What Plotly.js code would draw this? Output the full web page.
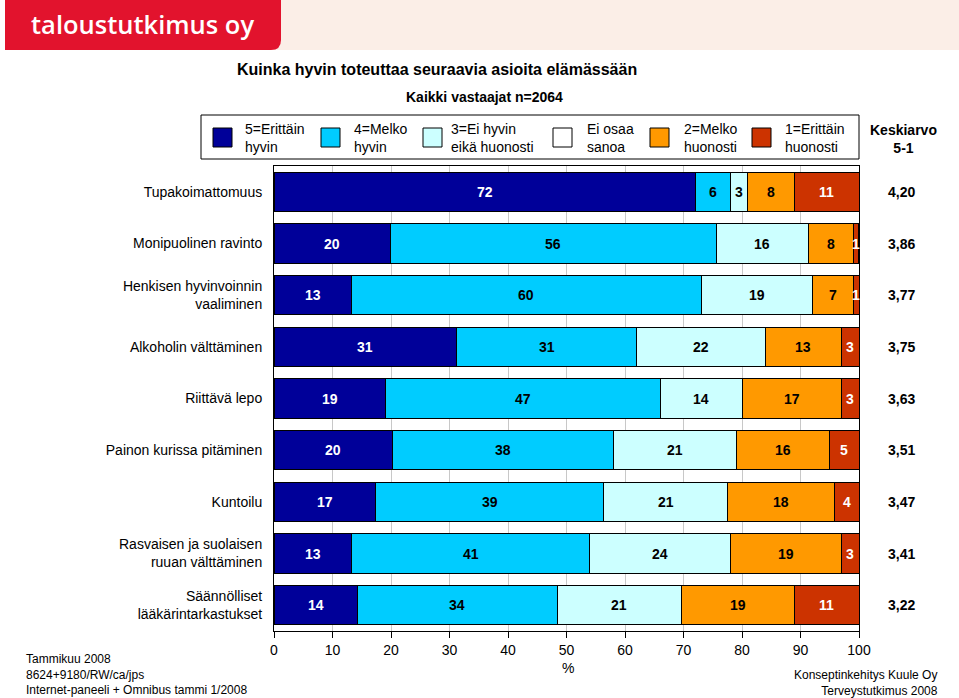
<!DOCTYPE html>
<html>
<head>
<meta charset="utf-8">
<script src="https://cdn.plot.ly/plotly-3.0.1.min.js"></script>
<style>html,body{margin:0;padding:0;background:#fff;}#chart{width:959px;height:698px;}</style>
</head>
<body>
<div id="chart"></div>
<script>
// ---- data ----
const categories = [
  'Tupakoimattomuus',
  'Monipuolinen ravinto',
  'Henkisen hyvinvoinnin<br>vaaliminen',
  'Alkoholin välttäminen',
  'Riittävä lepo',
  'Painon kurissa pitäminen',
  'Kuntoilu',
  'Rasvaisen ja suolaisen<br>ruuan välttäminen',
  'Säännölliset<br>lääkärintarkastukset'
];
const seriesNames = ['5=Erittäin<br>hyvin', '4=Melko<br>hyvin', '3=Ei hyvin<br>eikä huonosti', 'Ei osaa<br>sanoa', '2=Melko<br>huonosti', '1=Erittäin<br>huonosti'];
const v5 = [72, 19.9, 13.2, 31.2, 19, 20.2, 17.3, 13.2, 14.3];
const v4 = [6, 55.7, 59.9, 30.8, 47, 37.9, 39.1, 40.8, 34.1];
const v3 = [3, 15.7, 18.9, 22.0, 14, 21.0, 21.2, 24.1, 21.2];
const v0 = [0, 0, 0, 0, 0, 0, 0, 0, 0];
const v2 = [8, 7.8, 7.0, 13.0, 17, 15.9, 18.2, 18.9, 19.3];
const v1 = [11, 0.8, 1.0, 3.0, 3, 5.0, 4.2, 3.0, 11.1];
const means = ['4,20', '3,86', '3,77', '3,75', '3,63', '3,51', '3,47', '3,41', '3,22'];
const xTicks = [0, 10, 20, 30, 40, 50, 60, 70, 80, 90, 100];

// ---- styles ----
const colors = ['#000099', '#00CCFF', '#CCFFFF', '#FFFFFF', '#FF9900', '#CC3300'];
const textColors = ['#FFFFFF', '#000000', '#000000', '#000000', '#000000', '#FFFFFF'];
const allSeries = [v5, v4, v3, v0, v2, v1];
const FONT = 'Liberation Sans, Arial, sans-serif';

// plot area in pixels
const PL = 274, PR = 859, PT = 166, PB = 631;
const px = x => (x - PL) / (PR - PL);
const py = y => (PB - y) / (PB - PT);

const traces = allSeries.map((vals, i) => ({
  type: 'bar', orientation: 'h',
  x: vals, y: categories,
  name: seriesNames[i],
  marker: {color: colors[i], line: {color: '#000000', width: 1}},
  hoverinfo: 'skip', showlegend: false
}));

const annotations = [];
// segment labels
const cum = categories.map(() => 0);
allSeries.forEach((vals, i) => {
  vals.forEach((v, j) => {
    if (v > 0) {
      annotations.push({
        xref: 'x', yref: 'y', x: cum[j] + v / 2, y: categories[j],
        text: String(Math.round(v)), showarrow: false,
        font: {family: FONT, size: 14, color: textColors[i], weight: 'bold'}
      });
    }
    cum[j] += v;
  });
});
// means
means.forEach((m, j) => {
  annotations.push({
    xref: 'paper', yref: 'y', x: px(901), y: categories[j], xanchor: 'center',
    text: m, showarrow: false,
    font: {family: FONT, size: 14, color: '#000', weight: 'bold'}
  });
});

const shapes = [];
// top band and logo
shapes.push({type: 'rect', xref: 'paper', yref: 'paper', x0: px(270), x1: px(959), y0: py(50), y1: py(0),
  fillcolor: '#FBEEE7', line: {width: 0}, layer: 'above'});
const r = 10;
shapes.push({type: 'path', xref: 'paper', yref: 'paper', layer: 'above',
  path: `M ${px(5)} ${py(0)} L ${px(281)} ${py(0)} L ${px(281)} ${py(50 - r)} Q ${px(281)} ${py(50)} ${px(281 - r)} ${py(50)} L ${px(5)} ${py(50)} Z`,
  fillcolor: '#E2132D', line: {width: 0}});
annotations.push({xref: 'paper', yref: 'paper', x: px(142), y: py(24), xanchor: 'center', yanchor: 'middle',
  text: 'taloustutkimus oy', showarrow: false,
  font: {family: 'Open Sans, sans-serif', size: 25.5, color: '#FFFFFF', weight: 600}});

// titles
annotations.push({xref: 'paper', yref: 'paper', x: px(437), y: py(69), xanchor: 'center', yanchor: 'middle',
  text: 'Kuinka hyvin toteuttaa seuraavia asioita elämässään', showarrow: false,
  font: {family: FONT, size: 16, color: '#000', weight: 'bold'}});
annotations.push({xref: 'paper', yref: 'paper', x: px(484), y: py(97), xanchor: 'center', yanchor: 'middle',
  text: 'Kaikki vastaajat n=2064', showarrow: false,
  font: {family: FONT, size: 14, color: '#000', weight: 'bold'}});

// legend box
shapes.push({type: 'rect', xref: 'paper', yref: 'paper', x0: px(201), x1: px(859), y0: py(159), y1: py(115),
  fillcolor: 'rgba(0,0,0,0)', line: {color: '#000', width: 1}});
const legSq = [213, 321, 423, 553, 650, 752];
const legTx = [243, 352, 449, 585, 682, 783];
seriesNames.forEach((n, i) => {
  shapes.push({type: 'rect', xref: 'paper', yref: 'paper', x0: px(legSq[i]), x1: px(legSq[i] + 19), y0: py(147), y1: py(128),
    fillcolor: colors[i], line: {color: '#000', width: 1}});
  annotations.push({xref: 'paper', yref: 'paper', x: px(legTx[i]), y: py(138), xanchor: 'left', yanchor: 'middle', align: 'left',
    text: n, showarrow: false, font: {family: FONT, size: 14, color: '#000'}});
});
annotations.push({xref: 'paper', yref: 'paper', x: px(903), y: py(139), xanchor: 'center', yanchor: 'middle', align: 'center',
  text: 'Keskiarvo<br>5-1', showarrow: false, font: {family: FONT, size: 14, color: '#000', weight: 'bold'}});

// axis title %
annotations.push({xref: 'paper', yref: 'paper', x: px(568), y: py(668), xanchor: 'center', yanchor: 'middle',
  text: '%', showarrow: false, font: {family: FONT, size: 14, color: '#000'}});

// footers
annotations.push({xref: 'paper', yref: 'paper', x: px(24), y: py(674), xanchor: 'left', yanchor: 'middle', align: 'left',
  text: 'Tammikuu 2008<br>8624+9180/RW/ca/jps<br>Internet-paneeli + Omnibus tammi 1/2008', showarrow: false,
  font: {family: FONT, size: 12, color: '#000'}});
annotations.push({xref: 'paper', yref: 'paper', x: px(940), y: py(683), xanchor: 'right', yanchor: 'middle', align: 'right',
  text: 'Konseptinkehitys Kuule Oy<br>Terveystutkimus 2008', showarrow: false,
  font: {family: FONT, size: 12, color: '#000'}});

const layout = {
  width: 959, height: 698,
  margin: {l: PL, r: 959 - PR, t: PT, b: 698 - PB, pad: 0},
  paper_bgcolor: '#FFFFFF', plot_bgcolor: '#FFFFFF',
  barmode: 'stack', bargap: 0.24,
  showlegend: false,
  font: {family: FONT, size: 14, color: '#000'},
  xaxis: {
    range: [0, 100], tickvals: xTicks, ticktext: xTicks.map(String),
    showgrid: true, gridcolor: '#C8C8C8', gridwidth: 1,
    showline: true, linecolor: '#000', linewidth: 1, mirror: true,
    ticks: 'outside', ticklen: 6, tickcolor: '#000',
    tickfont: {family: FONT, size: 14, color: '#000'},
    zeroline: false, fixedrange: true
  },
  yaxis: {
    type: 'category', autorange: 'reversed',
    showgrid: false, showline: true, linecolor: '#000', linewidth: 1, mirror: true,
    ticks: '', ticklabelstandoff: 8,
    tickfont: {family: FONT, size: 14, color: '#000'},
    zeroline: false, fixedrange: true
  },
  shapes: shapes,
  annotations: annotations
};

Plotly.newPlot('chart', traces, layout, {displayModeBar: false, staticPlot: true});
</script>
</body>
</html>
